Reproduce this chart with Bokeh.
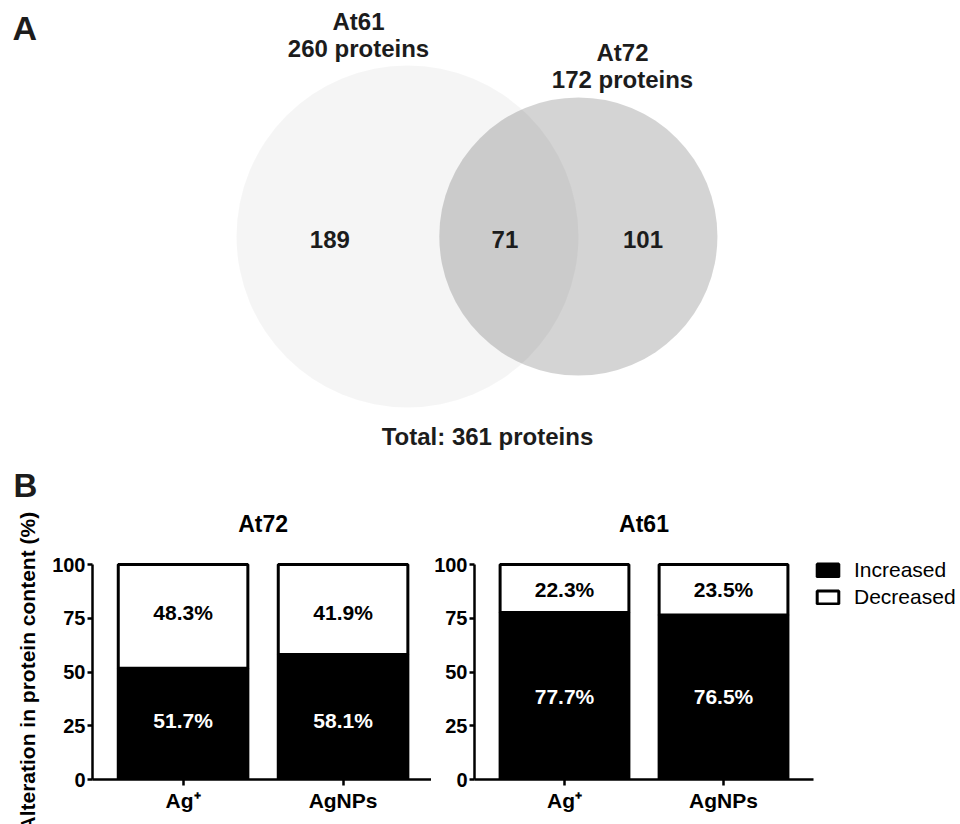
import numpy as np
from bokeh.plotting import figure
from bokeh.layouts import column, row
from bokeh.models import Range1d, FixedTicker, Legend, LegendItem, ColumnDataSource
from bokeh.core.properties import value
from bokeh.embed import file_html
from bokeh.resources import INLINE

FONT = "Liberation Sans"

# ---- Panel A: protein overlap between the two strains ----
set_names = ["At61", "At72"]
set_totals = [260, 172]
only_counts = [189, 101]
shared_count = 71
total_count = 361

# ---- Panel B: share of increased / decreased proteins (%) ----
treatments = ["Ag\u207a", "AgNPs"]
at72_increased = [51.7, 58.1]
at72_decreased = [48.3, 41.9]
at61_increased = [77.7, 76.5]
at61_decreased = [22.3, 23.5]
y_ticks = [0, 25, 50, 75, 100]
legend_labels = ["Increased", "Decreased"]
y_title = "Alteration in protein content (%)"


# ---------------------------------------------------------------- Venn
def lens_area(r1, r2, d):
    a1 = np.arccos((d * d + r1 * r1 - r2 * r2) / (2 * d * r1))
    a2 = np.arccos((d * d + r2 * r2 - r1 * r1) / (2 * d * r2))
    k = np.sqrt((-d + r1 + r2) * (d + r1 - r2) * (d - r1 + r2) * (d + r1 + r2))
    return r1 * r1 * a1 + r2 * r2 * a2 - 0.5 * k


def centre_distance(r1, r2, target):
    lo, hi = abs(r1 - r2) + 1e-6, r1 + r2 - 1e-6
    for _ in range(80):
        mid = 0.5 * (lo + hi)
        if lens_area(r1, r2, mid) > target:
            lo = mid
        else:
            hi = mid
    return 0.5 * (lo + hi)


VW, VH = 960, 505
scale = 171.0 / np.sqrt(set_totals[0])          # px per sqrt(protein)
radii = [scale * np.sqrt(n) for n in set_totals]
target = np.pi * radii[0] ** 2 * shared_count / set_totals[0]
dist = centre_distance(radii[0], radii[1], target)
cx0, cy = 407.0, 236.0
centres_x = [cx0, cx0 + dist]

venn = figure(width=VW, height=VH, x_range=Range1d(0, VW), y_range=Range1d(VH, 0),
              toolbar_location=None, output_backend="svg", x_axis_type=None,
              y_axis_type=None, min_border=0, outline_line_color=None)
venn.xgrid.visible = False
venn.ygrid.visible = False

venn.circle(x=centres_x, y=[cy, cy], radius=radii, fill_color="black",
            fill_alpha=[0.04, 0.17], line_color=None)

txt = dict(text_font=value(FONT), text_font_style="bold", text_color="#1c1c1c",
           text_align="center", text_baseline="middle", text_font_size="24px")

# region counts
r0, r1 = radii
left_only_x = (centres_x[0] - r0 + centres_x[1] - r1) / 2
shared_x = (centres_x[1] - r1 + centres_x[0] + r0) / 2
right_only_x = (centres_x[0] + r0 + centres_x[1] + r1) / 2
venn.text(x=[left_only_x - 8, shared_x - 4, right_only_x - 5], y=[238.5] * 3,
          text=[str(only_counts[0]), str(shared_count), str(only_counts[1])], **txt)

# set captions
venn.text(x=[358, 358], y=[21, 47.5],
          text=[set_names[0], f"{set_totals[0]} proteins"], **txt)
venn.text(x=[622, 622], y=[51.5, 78.5],
          text=[set_names[1], f"{set_totals[1]} proteins"], **txt)
venn.text(x=[487], y=[435.5], text=[f"Total: {total_count} proteins"], **txt)

# panel letters
letter = dict(text_font=value(FONT), text_font_style="bold", text_align="left",
              text_baseline="middle", text_color="#1c1c1c")
venn.text(x=[12], y=[27.5], text=["A"], text_font_size="34px", **letter)
venn.text(x=[13], y=[485], text=["B"], text_font_size="33px", **letter)

# ---------------------------------------------------------------- bars
BH = 824 - VH
BOTTOM = 45
PX_Y = 2.15                     # px per percent
PX_X = 160.0                    # px per category step
X0, X1 = -0.566, 1.566          # axis extent in category units
Y_TOP = (BH - BOTTOM) / PX_Y
TITLE_Y = 119


def style_axes(p):
    for ax in (p.xaxis[0], p.yaxis[0]):
        ax.axis_line_width = 2.5
        ax.axis_line_color = "black"
        ax.major_tick_line_width = 2.5
        ax.major_tick_line_color = "black"
        ax.major_tick_out = 6
        ax.major_tick_in = 0
        ax.minor_tick_out = 0
        ax.minor_tick_in = 0
        ax.major_label_text_font = FONT
        ax.major_label_text_font_style = "bold"
        ax.major_label_text_color = "black"
    p.xaxis.major_label_text_font_size = "21px"
    p.yaxis.major_label_text_font_size = "20px"
    p.xaxis.ticker = FixedTicker(ticks=[0, 1])
    p.xaxis.major_label_overrides = {0: treatments[0], 1: treatments[1]}
    p.xaxis.bounds = (X0, X1)
    p.xaxis.major_label_standoff = 3
    p.yaxis.ticker = FixedTicker(ticks=y_ticks)
    p.yaxis.bounds = (y_ticks[0], y_ticks[-1])
    p.yaxis.major_label_standoff = 2
    p.yaxis.major_tick_out = 5


def bar_panel(title, inc, dec, width, border_left):
    frame_w = width - border_left
    p = figure(width=width, height=BH, x_range=Range1d(X0, X0 + frame_w / PX_X),
               y_range=Range1d(0, Y_TOP), toolbar_location=None, output_backend="svg",
               min_border_left=border_left, min_border_right=0, min_border_top=0,
               min_border_bottom=BOTTOM, outline_line_color=None)
    p.xgrid.visible = False
    p.ygrid.visible = False
    xs = [0, 1]
    tops = [a + b for a, b in zip(inc, dec)]
    src = ColumnDataSource(dict(x=xs, inc=inc, dec=dec, top=tops))
    r_inc = p.vbar(x="x", width=0.81, bottom=0, top="inc", source=src,
                   fill_color="black", line_color="black", line_width=3)
    r_dec = p.vbar(x="x", width=0.81, bottom="inc", top="top", source=src,
                   fill_color="white", line_color="black", line_width=3)

    dec_y = float(np.mean([a + b / 2 for a, b in zip(inc, dec)]))
    inc_y = float(np.mean([a / 2 for a in inc]))
    lab = dict(text_font=value(FONT), text_font_style="bold", text_font_size="21px",
               text_align="center", text_baseline="middle")
    p.text(x=xs, y=[dec_y] * 2, text=[f"{v:.1f}%" for v in dec], text_color="black", **lab)
    p.text(x=xs, y=[inc_y] * 2, text=[f"{v:.1f}%" for v in inc], text_color="white", **lab)

    p.text(x=[(X0 + X1) / 2], y=[TITLE_Y], text=[title], text_font=value(FONT),
           text_font_style="bold", text_font_size="23px", text_align="center",
           text_baseline="middle", text_color="black")
    style_axes(p)
    return p, r_inc, r_dec


left, _, _ = bar_panel("At72", at72_increased, at72_decreased, 431, 92)

# The axis title is centred on the whole frame (which also holds the chart
# title); trailing no-break spaces shift the visible words down onto the
# 0-100 span of the axis.
frame_top_px = 0.0
frame_mid_px = (BH - BOTTOM) / 2
axis_mid_px = (BH - BOTTOM) - (y_ticks[0] + y_ticks[-1]) / 2 * PX_Y
space_px = 0.278 * 21
n_pad = int(round(2 * (axis_mid_px - frame_mid_px) / space_px))
left.yaxis.axis_label = y_title + "\u00a0" * max(n_pad, 0)
left.yaxis.axis_label_text_font = FONT
left.yaxis.axis_label_text_font_style = "bold"
left.yaxis.axis_label_text_font_size = "21px"
left.yaxis.axis_label_text_color = "black"
left.yaxis.axis_label_standoff = 10

right, r_inc, r_dec = bar_panel("At61", at61_increased, at61_decreased, VW - 431, 40)
legend = Legend(items=[LegendItem(label=legend_labels[0], renderers=[r_inc]),
                       LegendItem(label=legend_labels[1], renderers=[r_dec])],
                location=(340, 170), border_line_color=None, background_fill_alpha=0,
                padding=0, margin=0, spacing=3, glyph_width=27, glyph_height=16,
                label_standoff=13, label_text_font=FONT, label_text_font_size="21px",
                label_height=16, label_text_color="black")
right.add_layout(legend)

layout = column(venn, row(left, right, spacing=0), spacing=0)

with open("out.html", "w") as f:
    f.write(file_html(layout, INLINE))
